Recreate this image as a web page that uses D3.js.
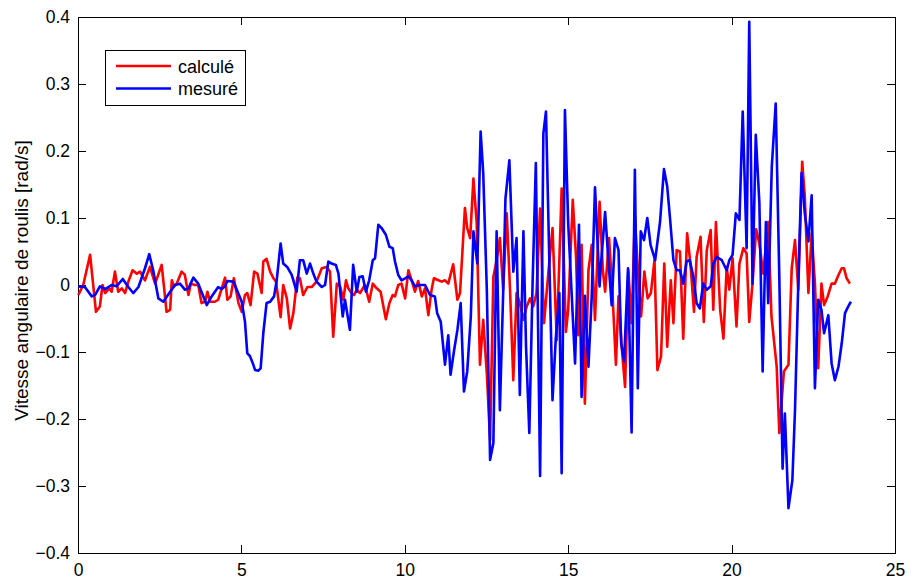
<!DOCTYPE html>
<html>
<head>
<meta charset="utf-8">
<script src="https://cdn.jsdelivr.net/npm/d3@7"></script>
<style>
  html, body { margin: 0; padding: 0; background: #ffffff; }
  svg { display: block; }
  text { font-family: "Liberation Sans", Arial, Helvetica, sans-serif; fill: #000; }
</style>
</head>
<body>
<svg id="chart" width="911" height="582"></svg>
<script>
// ---------------- data ----------------
const seriesNames = ["calculé", "mesuré"];
const seriesColors = ["#ff0000", "#0000ff"];
const xTicks = [0, 5, 10, 15, 20, 25];
const yTicks = [-0.4, -0.3, -0.2, -0.1, 0, 0.1, 0.2, 0.3, 0.4];
const yLabel = "Vitesse angulaire de roulis [rad/s]";

const tCalc = [0.01,0.16,0.37,0.55,0.67,0.75,0.83,0.96,1.03,1.13,
  1.23,1.34,1.44,1.54,1.67,1.80,1.90,2.05,2.20,2.36,
  2.56,2.63,2.71,2.82,2.87,2.94,3.02,3.17,3.27,3.38,
  3.45,3.58,3.68,3.78,3.89,3.96,4.04,4.19,4.29,4.50,
  4.57,4.67,4.77,4.91,5.01,5.11,5.18,5.28,5.39,5.49,
  5.62,5.67,5.77,5.88,5.98,6.06,6.20,6.28,6.39,6.49,
  6.59,6.71,6.79,6.89,7.02,7.15,7.30,7.46,7.61,7.71,
  7.81,7.92,8.02,8.12,8.20,8.27,8.37,8.45,8.53,8.63,
  8.78,8.91,9.02,9.14,9.26,9.42,9.53,9.63,9.70,9.80,
  9.90,10.01,10.11,10.21,10.31,10.41,10.52,10.62,10.72,10.82,
  10.89,11.03,11.13,11.23,11.33,11.48,11.61,11.69,11.84,11.91,
  12.00,12.10,12.20,12.30,12.40,12.51,12.61,12.71,12.81,12.91,
  13.01,13.12,13.22,13.32,13.42,13.52,13.63,13.73,13.83,13.93,
  14.03,14.14,14.26,14.39,14.52,14.65,14.80,14.93,15.00,15.14,
  15.24,15.31,15.41,15.51,15.62,15.72,15.82,15.96,16.06,16.13,
  16.25,16.35,16.46,16.54,16.64,16.74,16.84,16.94,17.04,17.14,
  17.23,17.33,17.43,17.53,17.64,17.73,17.84,17.94,18.03,18.14,
  18.22,18.32,18.42,18.52,18.64,18.74,18.85,18.93,19.05,19.15,
  19.24,19.36,19.44,19.52,19.65,19.75,19.85,19.93,20.03,20.15,
  20.24,20.36,20.46,20.54,20.64,20.75,20.85,20.97,21.12,21.22,
  21.38,21.46,21.60,21.74,21.84,21.94,22.04,22.16,22.24,22.35,
  22.45,22.55,22.65,22.75,22.83,22.94,23.06,23.16,23.27,23.37,
  23.44,23.52,23.62];
const vCalc = [-0.015,0.0,0.045,-0.04,-0.032,0.0,-0.012,-0.005,-0.01,0.02,
  -0.01,-0.005,-0.012,0.005,0.022,0.017,0.02,0.007,0.027,0.002,
  0.03,-0.002,-0.04,-0.037,0.007,-0.002,0.002,0.02,0.015,-0.015,
  0.002,0.0,0.0,-0.027,-0.025,-0.01,-0.025,-0.025,-0.022,0.011,
  -0.022,-0.017,0.01,-0.027,-0.04,-0.015,-0.012,-0.03,0.02,0.017,
  -0.012,0.035,0.039,0.02,0.01,0.005,-0.048,0.0,-0.02,-0.065,
  -0.042,0.011,0.01,-0.015,-0.003,-0.003,0.005,0.025,0.027,0.02,
  -0.077,0.002,-0.002,-0.022,0.007,-0.005,-0.012,-0.015,-0.007,-0.012,
  0.0,-0.025,0.002,-0.005,-0.01,-0.051,-0.027,-0.015,-0.017,0.0,
  0.002,-0.02,0.022,0.007,-0.01,0.006,-0.017,-0.005,-0.045,-0.007,
  0.01,0.007,0.005,0.007,0.002,0.031,-0.022,-0.012,0.115,0.085,
  0.07,0.159,0.092,-0.119,-0.052,-0.132,-0.231,0.012,0.037,0.07,
  -0.007,0.107,-0.007,-0.142,-0.012,-0.027,-0.052,-0.032,-0.02,-0.032,
  -0.012,0.114,-0.057,0.017,0.085,-0.082,0.144,-0.07,-0.037,0.127,
  0.042,-0.075,0.06,-0.177,0.022,0.06,-0.052,0.124,0.022,-0.01,
  0.07,-0.007,-0.119,-0.017,-0.094,-0.152,0.022,-0.057,0.102,0.017,
  -0.047,0.02,-0.02,-0.012,0.037,-0.127,-0.107,0.032,-0.092,0.007,
  -0.057,0.052,0.05,-0.08,0.077,0.032,-0.04,0.042,0.072,-0.055,
  0.052,0.082,-0.037,0.094,-0.037,-0.08,0.027,-0.007,0.04,-0.062,
  0.032,0.055,0.047,-0.055,0.002,0.083,0.062,0.017,0.094,-0.047,
  -0.122,-0.221,-0.129,-0.119,0.025,0.067,-0.007,0.184,0.132,-0.012,
  0.077,0.002,-0.124,0.002,-0.03,-0.017,0.002,0.002,0.015,0.025,
  0.025,0.01,0.002];

const tMes = [0.01,0.21,0.42,0.52,0.67,0.83,1.03,1.18,1.37,1.54,
  1.69,1.85,2.05,2.18,2.30,2.46,2.61,2.82,2.97,3.12,
  3.27,3.38,3.53,3.68,3.94,4.09,4.29,4.40,4.50,4.57,
  4.75,4.86,5.01,5.11,5.18,5.26,5.35,5.42,5.52,5.59,
  5.67,5.77,5.88,6.00,6.08,6.20,6.28,6.40,6.54,6.69,
  6.79,6.89,7.00,7.10,7.20,7.30,7.46,7.56,7.66,7.76,
  7.89,7.97,8.10,8.17,8.32,8.42,8.53,8.61,8.71,8.81,
  8.91,9.02,9.09,9.19,9.29,9.42,9.53,9.63,9.70,9.80,
  9.90,10.01,10.11,10.21,10.31,10.47,10.62,10.77,10.92,10.99,
  11.10,11.23,11.33,11.40,11.51,11.61,11.71,11.81,11.91,12.02,
  12.10,12.22,12.32,12.40,12.51,12.61,12.71,12.81,12.91,13.01,
  13.08,13.20,13.32,13.42,13.52,13.63,13.71,13.81,13.91,14.01,
  14.14,14.24,14.32,14.42,14.52,14.62,14.73,14.80,14.90,15.00,
  15.11,15.21,15.33,15.41,15.51,15.62,15.72,15.82,15.96,16.02,
  16.13,16.23,16.33,16.43,16.54,16.62,16.71,16.83,16.94,17.04,
  17.13,17.22,17.32,17.42,17.52,17.66,17.81,17.93,18.03,18.12,
  18.22,18.32,18.42,18.52,18.62,18.72,18.83,18.93,19.03,19.13,
  19.24,19.36,19.44,19.54,19.70,19.85,19.93,20.03,20.13,20.24,
  20.34,20.46,20.54,20.64,20.74,20.85,20.95,21.05,21.12,21.23,
  21.35,21.46,21.56,21.63,21.74,21.86,21.94,22.04,22.14,22.24,
  22.35,22.45,22.55,22.65,22.75,22.83,22.96,23.06,23.16,23.27,
  23.37,23.47,23.57,23.65];
const vMes = [-0.002,-0.003,-0.017,-0.015,-0.002,-0.006,0.0,-0.002,0.009,-0.003,
  -0.012,-0.003,0.025,0.046,0.022,-0.02,-0.025,-0.01,0.0,0.002,
  -0.007,-0.005,0.011,0.002,-0.03,-0.017,-0.003,-0.006,-0.002,0.006,
  0.005,-0.007,-0.025,-0.055,-0.102,-0.106,-0.117,-0.127,-0.128,-0.124,
  -0.072,-0.027,-0.025,-0.017,0.007,0.062,0.032,0.027,0.015,-0.01,
  0.037,0.037,0.017,0.032,0.017,0.005,-0.003,0.0,0.035,0.032,
  0.03,0.017,-0.047,-0.022,-0.067,0.03,-0.01,0.012,0.013,-0.01,
  0.007,0.037,0.04,0.09,0.085,0.075,0.057,0.055,0.035,0.015,
  0.007,0.01,0.013,0.007,-0.002,0.0,0.0,-0.015,-0.017,-0.042,
  -0.055,-0.119,-0.075,-0.134,-0.097,-0.067,-0.027,-0.159,-0.129,-0.047,
  0.08,0.032,0.229,0.167,-0.007,-0.261,-0.236,0.08,-0.187,-0.012,
  0.129,0.186,0.02,0.07,-0.164,0.08,-0.092,-0.221,0.002,0.182,
  -0.285,0.226,0.259,0.042,-0.172,-0.08,-0.012,-0.281,0.261,0.092,
  -0.017,-0.117,0.09,-0.167,-0.016,-0.122,-0.017,0.146,-0.002,0.042,
  0.109,0.037,-0.03,0.07,0.052,-0.087,-0.114,0.025,-0.22,0.172,
  -0.154,0.08,0.067,0.1,0.06,0.037,0.094,0.173,0.147,0.097,
  0.037,0.022,0.022,0.002,0.035,0.037,0.012,-0.027,-0.035,0.002,
  -0.007,-0.002,0.032,0.042,0.037,0.022,0.037,0.045,0.107,0.097,
  0.259,0.055,0.393,0.002,0.224,0.122,-0.129,0.094,-0.027,0.177,
  0.271,0.012,-0.274,-0.192,-0.333,-0.291,-0.187,0.002,0.167,0.107,
  0.065,0.134,-0.154,-0.022,-0.037,-0.072,-0.045,-0.117,-0.142,-0.122,
  -0.087,-0.042,-0.032,-0.025];

// ---------------- layout ----------------
const W = 911, H = 582;
const L = 78, R = 895, T = 17, B = 553;
const svg = d3.select("#chart");
svg.append("rect").attr("width", W).attr("height", H).attr("fill", "#fff");

const x = d3.scaleLinear().domain([0, 25]).range([L, R]);
const y = d3.scaleLinear().domain([-0.4, 0.4]).range([B, T]);

const tickFont = "17.5px";
const fmtY = d => d === 0 ? "0" : d3.format(".1f")(d);

// bottom axis
const gB = svg.append("g").attr("transform", `translate(0,${B})`)
  .call(d3.axisBottom(x).tickValues(xTicks).tickSize(-8).tickSizeOuter(0).tickFormat(d3.format("d")));
gB.selectAll("text").attr("y", 11).attr("dy", "0.71em").style("font-size", tickFont);
// left axis
const gL = svg.append("g").attr("transform", `translate(${L},0)`)
  .call(d3.axisLeft(y).tickValues(yTicks).tickSize(-8).tickSizeOuter(0).tickFormat(fmtY));
gL.selectAll("text").attr("x", -8).attr("dy", "0.34em").style("font-size", tickFont);
// top axis (ticks only)
svg.append("g").attr("transform", `translate(0,${T})`)
  .call(d3.axisTop(x).tickValues(xTicks).tickSize(-8).tickSizeOuter(0).tickFormat(""));
// right axis (ticks only)
svg.append("g").attr("transform", `translate(${R},0)`)
  .call(d3.axisRight(y).tickValues(yTicks).tickSize(-8).tickSizeOuter(0).tickFormat(""));

svg.selectAll(".domain").remove();
svg.selectAll(".tick line").attr("stroke", "#000").attr("shape-rendering", "crispEdges");
svg.selectAll(".tick text").attr("font-family", null);

// frame
svg.append("rect").attr("x", L).attr("y", T).attr("width", R - L).attr("height", B - T)
  .attr("fill", "none").attr("stroke", "#000").attr("stroke-width", 1)
  .attr("shape-rendering", "crispEdges");

// series
const line = d3.line().x(d => x(d[0])).y(d => y(d[1]));
const series = [d3.zip(tCalc, vCalc), d3.zip(tMes, vMes)];
series.forEach((s, i) => {
  svg.append("path").datum(s)
    .attr("d", line)
    .attr("fill", "none")
    .attr("stroke", seriesColors[i])
    .attr("stroke-width", 2.6)
    .attr("stroke-linejoin", "round")
    .attr("stroke-linecap", "butt");
});

// y label
svg.append("text")
  .attr("transform", "translate(28,280.5) rotate(-90)")
  .attr("text-anchor", "middle")
  .style("font-size", "19px")
  .text(yLabel);

// legend
const lg = svg.append("g");
lg.append("rect").attr("x", 105.5).attr("y", 50.5).attr("width", 140).attr("height", 54.5)
  .attr("fill", "#fff").attr("stroke", "#000").attr("stroke-width", 1)
  .attr("shape-rendering", "crispEdges");
seriesNames.forEach((n, i) => {
  const yy = 66 + i * 22.5;
  lg.append("line").attr("x1", 116).attr("x2", 171).attr("y1", yy).attr("y2", yy)
    .attr("stroke", seriesColors[i]).attr("stroke-width", 2.6);
  lg.append("text").attr("x", 178).attr("y", yy + 6.8)
    .style("font-size", "18px").text(n);
});
</script>
</body>
</html>
